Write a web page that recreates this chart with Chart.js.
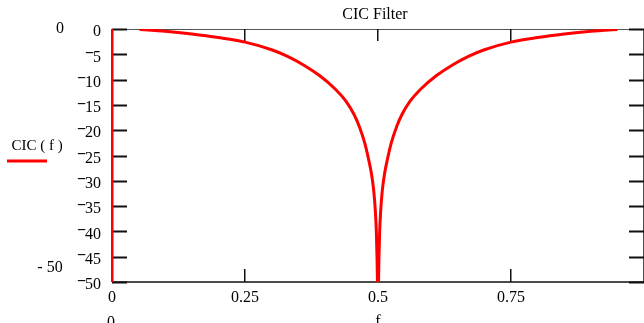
<!DOCTYPE html>
<html>
<head>
<meta charset="utf-8">
<script src="https://cdn.jsdelivr.net/npm/chart.js@4/dist/chart.umd.min.js"></script>
<style>
html,body{margin:0;padding:0;background:#fff;overflow:hidden;width:644px;height:323px;}
canvas{display:block;}
</style>
</head>
<body>
<canvas id="c" width="650" height="323"></canvas>
<script>
// ---- data ----
const chartTitle = "CIC Filter";
const seriesName = "CIC ( f )";
const xLabel = "f";
// frequency samples (null dB value = gap in the trace)
const freq = [0, 0, 0.03,
  0.052, 0.08, 0.1, 0.15, 0.2, 0.25, 0.3, 0.33, 0.36, 0.39, 0.42, 0.44, 0.455, 0.465, 0.475, 0.482, 0.488, 0.492, 0.495, 0.497, 0.499, 0.5,
  0.501, 0.503, 0.505, 0.508, 0.512, 0.518, 0.525, 0.535, 0.545, 0.56, 0.58, 0.61, 0.64, 0.67, 0.7, 0.75, 0.8, 0.85, 0.9, 0.92, 0.95];
const cicDb = [-60, 0, null,
  -0.1, -0.3, -0.45, -1.0, -1.7, -2.6, -4.1, -5.4, -7.1, -9.2, -11.9, -14.3, -16.9, -19.3, -22.5, -25.6, -28.8, -32, -36, -40.5, -50, -60,
  -50, -40.5, -36, -32, -28.8, -25.6, -22.5, -19.3, -16.9, -14.3, -11.9, -9.2, -7.1, -5.4, -4.1, -2.6, -1.7, -1.0, -0.45, -0.3, -0.1];
const xTicks = [0, 0.25, 0.5, 0.75, 1];
const xTickLabels = ["0", "0.25", "0.5", "0.75", ""];
const yTicks = [0, -5, -10, -15, -20, -25, -30, -35, -40, -45, -50];
const yTickLabels = ["0", "\u22125", "\u221210", "\u221215", "\u221220", "\u221225", "\u221230", "\u221235", "\u221240", "\u221245", "\u221250"];
const yLimitLabels = ["0", "- 50"];
const xLimitLabel = "0";

const FONT = "'Liberation Serif', 'Times New Roman', serif";
const RED = "#ff0000";

const points = freq.map((f, i) => ({x: f, y: cicDb[i]}));

const mathcadFrame = {
  id: 'mathcadFrame',
  beforeDatasetsDraw(chart) {
    const {ctx, chartArea: a, scales: {x, y}} = chart;
    ctx.save();
    // frame
    ctx.strokeStyle = '#555';
    ctx.lineWidth = 1;
    ctx.beginPath();
    ctx.moveTo(a.left, a.top + 0.5); ctx.lineTo(a.right, a.top + 0.5);
    ctx.stroke();
    ctx.strokeStyle = '#111';
    ctx.lineWidth = 1.5;
    ctx.beginPath();
    ctx.moveTo(a.left, a.bottom); ctx.lineTo(a.right, a.bottom);
    ctx.moveTo(a.left, a.top); ctx.lineTo(a.left, a.bottom);
    ctx.moveTo(a.right, a.top); ctx.lineTo(a.right, a.bottom);
    ctx.stroke();
    // inward ticks
    ctx.strokeStyle = '#111';
    ctx.lineWidth = 2;
    ctx.beginPath();
    yTicks.forEach(v => {
      const py = Math.round(y.getPixelForValue(v)) + 0.5;
      ctx.moveTo(a.left, py); ctx.lineTo(a.left + 15, py);
      ctx.moveTo(a.right - 15, py); ctx.lineTo(a.right, py);
    });
    ctx.stroke();
    ctx.lineWidth = 1.5;
    ctx.beginPath();
    xTicks.forEach(v => {
      if (v === 0 || v === 1) return;
      const px = Math.round(x.getPixelForValue(v)) - 0.25;
      ctx.moveTo(px, a.top); ctx.lineTo(px, a.top + 12);
      ctx.moveTo(px, a.bottom); ctx.lineTo(px, a.bottom - 13);
    });
    ctx.stroke();
    ctx.restore();
  },
  afterDraw(chart) {
    const {ctx, chartArea: a, scales: {x, y}} = chart;
    ctx.save();
    ctx.fillStyle = '#000';
    ctx.font = '16px ' + FONT;
    // y tick labels (Mathcad style raised minus sign)
    ctx.textAlign = 'right';
    ctx.textBaseline = 'middle';
    const rightEdge = a.left - 11;
    yTicks.forEach((v, i) => {
      const label = yTickLabels[i];
      const py = y.getPixelForValue(v) + 3;
      const neg = label.charAt(0) === '\u2212';
      const digits = neg ? label.slice(1) : label;
      ctx.fillText(digits, rightEdge, py);
      if (neg) {
        const w = ctx.measureText(digits).width;
        ctx.font = 'bold 16px ' + FONT;
        ctx.fillText('\u2212', rightEdge - w + 1, py - 3.5);
        ctx.font = '16px ' + FONT;
      }
    });
    ctx.textAlign = 'center';
    // title
    ctx.fillText(chartTitle, (a.left + a.right) / 2 - 3, a.top - 14);
    // y limits
    ctx.fillText(yLimitLabels[0], 60, y.getPixelForValue(0) - 0.5);
    ctx.fillText(yLimitLabels[1], 50, y.getPixelForValue(-50) - 14);
    // x limit + axis label
    ctx.textBaseline = 'top';
    ctx.fillText(xLimitLabel, x.getPixelForValue(0) - 1, a.bottom + 33);
    ctx.fillText(xLabel, x.getPixelForValue(0.5), a.bottom + 32);
    // y axis legend
    ctx.textBaseline = 'middle';
    ctx.font = '15px ' + FONT;
    ctx.fillText(seriesName, 37, 146);
    ctx.strokeStyle = RED;
    ctx.lineWidth = 3;
    ctx.beginPath();
    ctx.moveTo(7, 161); ctx.lineTo(47, 161);
    ctx.stroke();
    ctx.restore();
  }
};

new Chart(document.getElementById('c'), {
  type: 'line',
  data: {
    datasets: [{
      label: seriesName,
      data: points,
      borderColor: RED,
      backgroundColor: RED,
      borderWidth: 3,
      pointRadius: 0,
      cubicInterpolationMode: 'monotone',
      spanGaps: false,
      fill: false
    }]
  },
  options: {
    responsive: false,
    animation: false,
    devicePixelRatio: 1,
    layout: {padding: {top: 29, right: 3, left: 0, bottom: 0}},
    plugins: {legend: {display: false}, tooltip: {enabled: false}, title: {display: false}},
    scales: {
      x: {
        type: 'linear', min: 0, max: 1,
        afterBuildTicks(s) { s.ticks = xTicks.map(v => ({value: v})); },
        afterFit(s) { s.height = 41; },
        grid: {display: false, drawTicks: false},
        border: {display: false},
        ticks: {
          padding: 6, maxRotation: 0, autoSkip: false, color: '#000',
          font: {family: FONT, size: 16},
          callback: (v) => { const i = xTicks.indexOf(v); return i >= 0 ? xTickLabels[i] : ''; }
        }
      },
      y: {
        type: 'linear', min: -50, max: 0,
        afterBuildTicks(s) { s.ticks = yTicks.map(v => ({value: v})); },
        afterFit(s) { s.width = 112; },
        grid: {display: false, drawTicks: false},
        border: {display: false},
        ticks: { display: false }
      }
    }
  },
  plugins: [mathcadFrame]
});
</script>
</body>
</html>
